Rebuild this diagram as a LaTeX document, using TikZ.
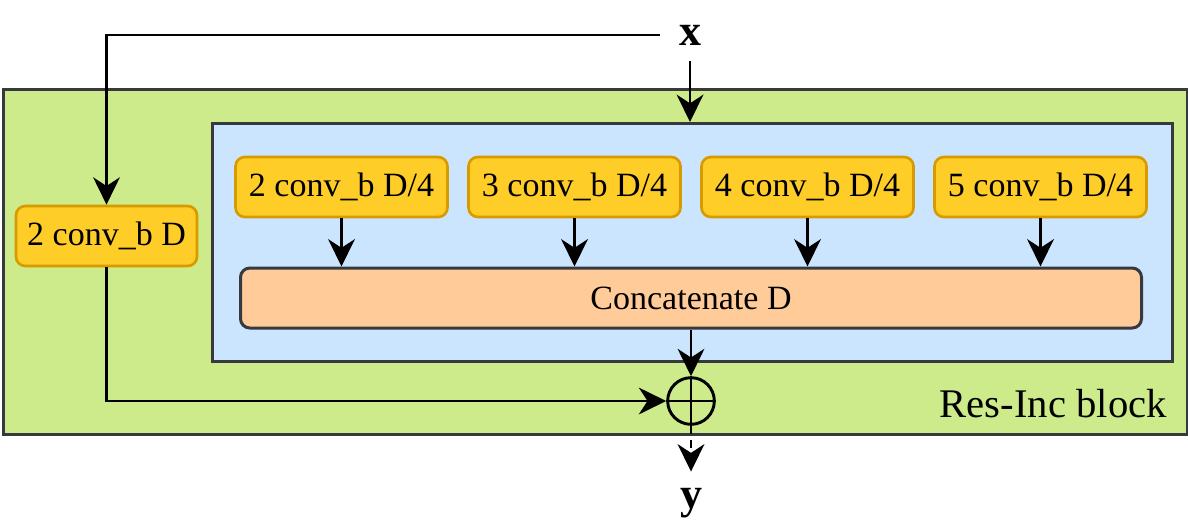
\documentclass[tikz,border=0pt]{standalone}
\usepackage{fontspec}
\setmainfont{Liberation Serif}
\usetikzlibrary{arrows.meta, positioning, calc}
\definecolor{blockgreen}{HTML}{CDEB8B}
\definecolor{incblue}{HTML}{CCE5FF}
\definecolor{convyellow}{HTML}{FFCD28}
\definecolor{convedge}{HTML}{D79B00}
\definecolor{catorange}{HTML}{FFCC99}
\definecolor{edgegrey}{HTML}{36393D}

\begin{document}
\begin{tikzpicture}[x=0.75pt, y=-0.75pt,
  convbox/.style={rectangle, draw=convedge, fill=convyellow, line width=2pt, rounded corners=7pt, minimum width=159pt, minimum height=45pt, inner sep=0pt, font=\fontsize{25.5}{30}\selectfont},
  arr/.style={-{Stealth[length=20.5pt, width=20pt, inset=6.5pt]}, line width=2.2pt}]
\useasboundingbox (0,0) rectangle (1188,519);

% outer block and inception part
\node[rectangle, draw=edgegrey, fill=blockgreen, line width=2.25pt, minimum width=888pt, minimum height=258.75pt, anchor=north west] (block) at (2,88) {};
\node[rectangle, draw=edgegrey, fill=incblue, line width=2.25pt, minimum width=720pt, minimum height=178.5pt, anchor=north west] (inc) at (211,122) {};
\node[anchor=base east, inner sep=0pt, font=\fontsize{30.5}{36}\selectfont] (blocklabel) at (1167,417) {Res-Inc block};

% branches
\node[convbox] (conv2) at (341.5,187) {2 conv\_b D/4};
\node[convbox, right=13.75pt of conv2] (conv3) {3 conv\_b D/4};
\node[convbox, right=13.75pt of conv3] (conv4) {4 conv\_b D/4};
\node[convbox, right=13.75pt of conv4] (conv5) {5 conv\_b D/4};
\node[convbox, minimum width=135.75pt] (lconv) at (106.5,236) {2 conv\_b D};
\node[rectangle, draw=edgegrey, fill=catorange, line width=2.25pt, rounded corners=7pt, minimum width=675.75pt, minimum height=45pt, font=\fontsize{25.5}{30}\selectfont] (cat) at (691,298) {Concatenate D};

% sum, input, output
\node[circle, draw=black, line width=2.2pt, minimum size=35pt, inner sep=0pt] (sum) at (691,401) {};
\draw[line width=2.2pt] (sum.north) -- (sum.south) (sum.west) -- (sum.east);
\node[font=\fontsize{33}{40}\selectfont\bfseries, inner xsep=14pt, inner ysep=12pt] (xin) at (690,35) {x};
\node[font=\fontsize{33}{40}\selectfont\bfseries, inner xsep=14pt, inner ysep=12pt, anchor=base] (yout) at (691,508) {y};

\draw[arr] (xin.west) -| (lconv.north);
\draw[arr] (xin.south) -- (xin.south |- inc.north);
\foreach \c in {conv2, conv3, conv4, conv5}
  \draw[arr] (\c.south) -- (\c.south |- cat.north);
\draw[arr] (cat.south) -- (sum.north);
\draw[arr] (lconv.south) |- (sum.west);
\draw[arr, dash pattern=on 6pt off 4.5pt] (sum.south) -- (yout.north);
\end{tikzpicture}
\end{document}
